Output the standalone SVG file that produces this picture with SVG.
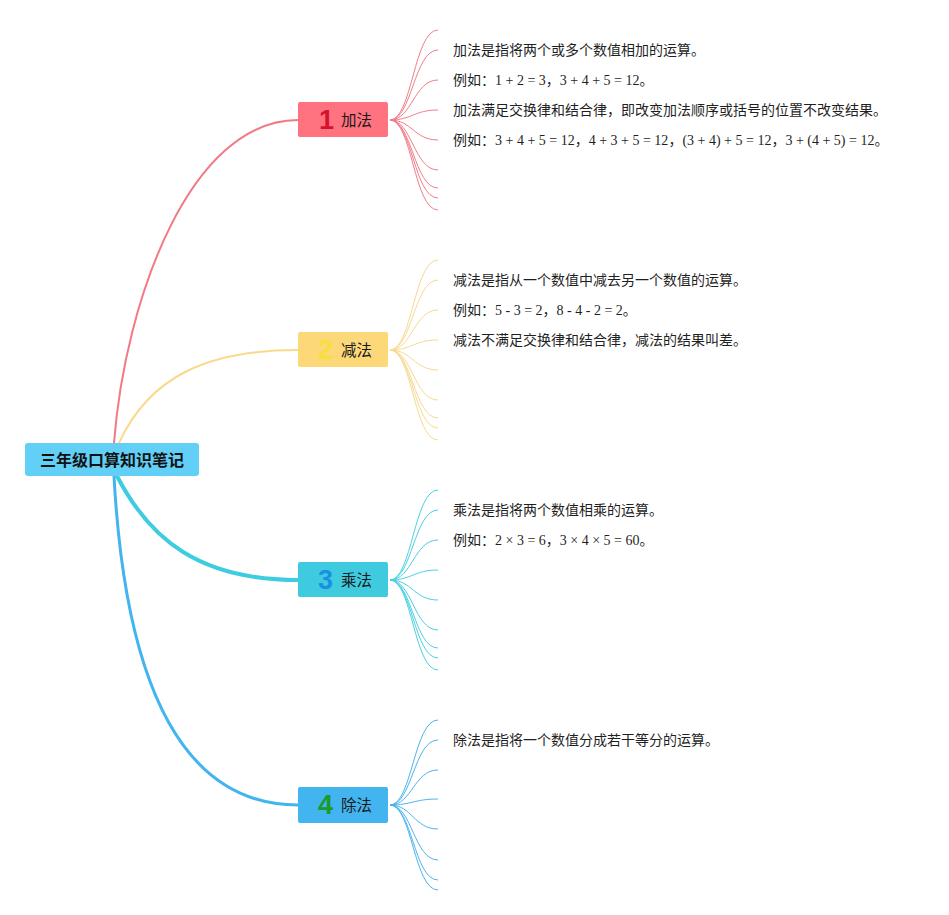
<svg xmlns="http://www.w3.org/2000/svg" width="949" height="915" viewBox="0 0 949 915">
<style>
  .main { fill: none; stroke-linecap: round; }
  .sub { fill: none; stroke-width: 1; }
  .t { font-family: "Noto Sans CJK SC", "Liberation Sans", sans-serif; font-size: 14px; fill: #1f1f1f; }
  .n { font-family: "Liberation Serif", "Noto Sans CJK SC", serif; }
  .lbl { font-family: "Noto Sans CJK SC", "Liberation Sans", sans-serif; font-size: 15.5px; fill: #1a1a1a; }
  .num { font-family: "Liberation Sans", "Roboto", sans-serif; font-size: 27px; font-weight: bold; }
  .root { font-family: "Noto Sans CJK SC", "Liberation Sans", sans-serif; font-size: 16px; font-weight: bold; fill: #111; }
</style>
<rect width="949" height="915" fill="#ffffff"/>
<g id="connectors">
  <path class="main" d="M114,443 C125,300 190,120 298,120" stroke="#f07a85" stroke-width="2"/>
  <path class="main" d="M119,443 C150,375 210,350 298,350" stroke="#f9d98c" stroke-width="2"/>
  <path class="main" d="M117,476 C150,540 200,580 298,580" stroke="#3ecde0" stroke-width="4"/>
  <path class="main" d="M114,476 C125,680 180,805 298,805" stroke="#42b4ef" stroke-width="3"/>
  <g stroke="#f27d89" class="sub">
    <path d="M390,120 C412,120 414,30 438,30"/>
    <path d="M390,120 C412,120 414,50 438,50"/>
    <path d="M390,120 C412,120 414,80 438,80"/>
    <path d="M390,120 C412,120 414,110 438,110"/>
    <path d="M390,120 C412,120 414,140 438,140"/>
    <path d="M390,120 C412,120 414,170 438,170"/>
    <path d="M390,120 C412,120 414,188 438,188"/>
    <path d="M390,120 C412,120 414,198 438,198"/>
    <path d="M390,120 C412,120 414,210 438,210"/>
  </g>
  <g stroke="#f8d98f" class="sub">
    <path d="M390,350 C412,350 414,260 438,260"/>
    <path d="M390,350 C412,350 414,280 438,280"/>
    <path d="M390,350 C412,350 414,310 438,310"/>
    <path d="M390,350 C412,350 414,340 438,340"/>
    <path d="M390,350 C412,350 414,370 438,370"/>
    <path d="M390,350 C412,350 414,400 438,400"/>
    <path d="M390,350 C412,350 414,418 438,418"/>
    <path d="M390,350 C412,350 414,428 438,428"/>
    <path d="M390,350 C412,350 414,440 438,440"/>
  </g>
  <g stroke="#4ccfe0" class="sub">
    <path d="M390,580 C412,580 414,490 438,490"/>
    <path d="M390,580 C412,580 414,510 438,510"/>
    <path d="M390,580 C412,580 414,540 438,540"/>
    <path d="M390,580 C412,580 414,570 438,570"/>
    <path d="M390,580 C412,580 414,600 438,600"/>
    <path d="M390,580 C412,580 414,630 438,630"/>
    <path d="M390,580 C412,580 414,648 438,648"/>
    <path d="M390,580 C412,580 414,658 438,658"/>
    <path d="M390,580 C412,580 414,670 438,670"/>
  </g>
  <g stroke="#4ab4ee" class="sub">
    <path d="M390,805 C412,805 414,720 438,720"/>
    <path d="M390,805 C412,805 414,740 438,740"/>
    <path d="M390,805 C412,805 414,770 438,770"/>
    <path d="M390,805 C412,805 414,799 438,799"/>
    <path d="M390,805 C412,805 414,829 438,829"/>
    <path d="M390,805 C412,805 414,860 438,860"/>
    <path d="M390,805 C412,805 414,880 438,880"/>
    <path d="M390,805 C412,805 414,890 438,890"/>
  </g>
</g>
<g id="root">
  <rect x="25" y="443" width="174" height="33" rx="3" fill="#62cff7"/>
  <text class="root" x="112" y="466" text-anchor="middle">三年级口算知识笔记</text>
</g>
<g id="node-add">
  <rect x="298" y="102" width="90" height="35" rx="2" fill="#ff727f"/>
  <text class="num" x="319" y="129" fill="#d6132e">1</text>
  <text class="lbl" x="341" y="125.5">加法</text>
</g>
<g id="node-sub">
  <rect x="298" y="332" width="90" height="35" rx="2" fill="#fdd879"/>
  <text class="num" x="318" y="359" fill="#f7df3c">2</text>
  <text class="lbl" x="341" y="355.5">减法</text>
</g>
<g id="node-mul">
  <rect x="298" y="562" width="90" height="35" rx="2" fill="#3ecbe0"/>
  <text class="num" x="318" y="589" fill="#1b8fe2">3</text>
  <text class="lbl" x="341" y="585.5">乘法</text>
</g>
<g id="node-div">
  <rect x="298" y="787" width="90" height="36" rx="2" fill="#42b4ef"/>
  <text class="num" x="318" y="814" fill="#1a9b2c">4</text>
  <text class="lbl" x="341" y="810.5">除法</text>
</g>
<g id="notes-add">
  <text class="t" x="453" y="55">加法是指将两个或多个数值相加的运算。</text>
  <text class="t" x="453" y="85">例如：<tspan class="n">1 + 2 = 3</tspan>，<tspan class="n">3 + 4 + 5 = 12</tspan>。</text>
  <text class="t" x="453" y="115">加法满足交换律和结合律，即改变加法顺序或括号的位置不改变结果。</text>
  <text class="t" x="453" y="145">例如：<tspan class="n">3 + 4 + 5 = 12</tspan>，<tspan class="n">4 + 3 + 5 = 12</tspan>，<tspan class="n">(3 + 4) + 5 = 12</tspan>，<tspan class="n">3 + (4 + 5) = 12</tspan>。</text>
</g>
<g id="notes-sub">
  <text class="t" x="453" y="285">减法是指从一个数值中减去另一个数值的运算。</text>
  <text class="t" x="453" y="315">例如：<tspan class="n">5 - 3 = 2</tspan>，<tspan class="n">8 - 4 - 2 = 2</tspan>。</text>
  <text class="t" x="453" y="345">减法不满足交换律和结合律，减法的结果叫差。</text>
</g>
<g id="notes-mul">
  <text class="t" x="453" y="515">乘法是指将两个数值相乘的运算。</text>
  <text class="t" x="453" y="545">例如：<tspan class="n">2 × 3 = 6</tspan>，<tspan class="n">3 × 4 × 5 = 60</tspan>。</text>
</g>
<g id="notes-div">
  <text class="t" x="453" y="745">除法是指将一个数值分成若干等分的运算。</text>
</g>
</svg>
